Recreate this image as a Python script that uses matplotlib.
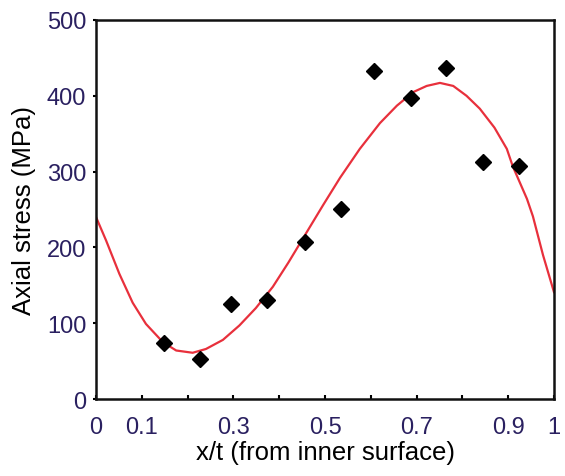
# Import libraries
import matplotlib.pyplot as plt

plt.rcParams['font.family'] = ['Liberation Sans', 'DejaVu Sans']

# Measured points (x/t, axial stress in MPa)
pos = [0.148, 0.227, 0.295, 0.373, 0.456, 0.535, 0.607, 0.688, 0.764, 0.845, 0.924]
stress = [74, 53, 125, 131, 207, 251, 433, 397, 437, 313, 307]

# Trend curve
curve_x = [0.0, 0.022, 0.051, 0.080, 0.109, 0.146, 0.175, 0.211, 0.240,
           0.277, 0.313, 0.349, 0.386, 0.420, 0.453, 0.496, 0.533, 0.576,
           0.620, 0.657, 0.693, 0.722, 0.751, 0.780, 0.809, 0.838, 0.870,
           0.897, 0.91, 0.941, 0.954, 0.976, 1.0]
curve_y = [240, 209, 165, 127, 99, 75, 64, 61, 66,
           78, 97, 120, 148, 180, 213, 256, 292, 330,
           364, 387, 405, 413, 417, 413, 400, 383, 358,
           330, 307, 264, 241, 190, 141]

xticks = [0, 0.1, 0.2, 0.3, 0.4, 0.5, 0.6, 0.7, 0.8, 0.9, 1]
xlabels = ['0', '0.1', '', '0.3', '', '0.5', '', '0.7', '', '0.9', '1']
yticks = [0, 100, 200, 300, 400, 500]

tick_color = '#2a2060'

# Create figure
fig = plt.figure(figsize=(5.65, 4.77), dpi=100)
ax = fig.add_axes([0.170, 0.1614, 0.8105, 0.7946])

# Curve and points
ax.plot(curve_x, curve_y, color='#e8303c', lw=1.6, zorder=2)
ax.plot(pos, stress, 'D', color='black', ms=8, zorder=3)

ax.set_xlim(0, 1)
ax.set_ylim(0, 500)
ax.set_xticks(xticks)
ax.set_xticklabels(xlabels)
ax.set_yticks(yticks)

ax.tick_params(axis='x', direction='in', length=3, width=1.5, pad=12,
               labelsize=17, labelcolor=tick_color)
ax.tick_params(axis='y', direction='out', length=2, width=1.5, pad=5,
               labelsize=17, labelcolor=tick_color)

for s in ax.spines.values():
    s.set_linewidth(1.8)
    s.set_color('#111111')

ax.set_xlabel('x/t (from inner surface)', fontsize=18.5, labelpad=2)
ax.set_ylabel('Axial stress (MPa)', fontsize=18.5, labelpad=8)

# Save figure
fig.savefig('out.png', dpi=100)
